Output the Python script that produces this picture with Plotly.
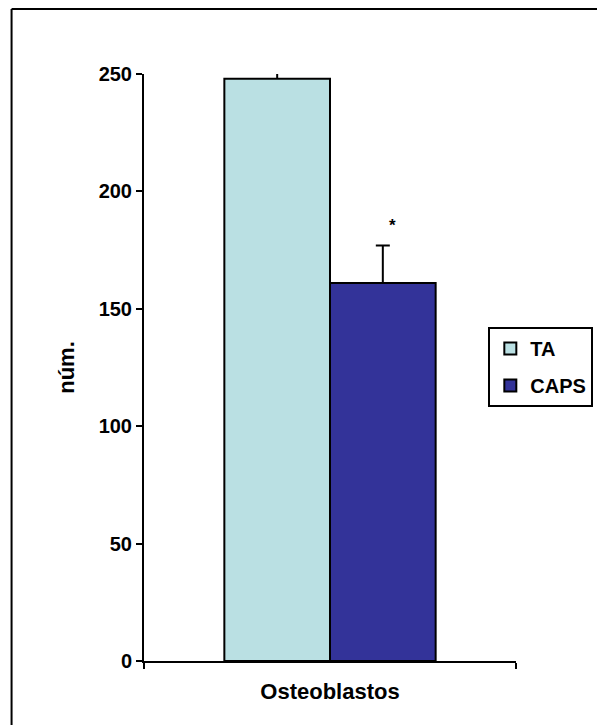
import plotly.graph_objects as go

categories = ["Osteoblastos"]
series_names = ["TA", "CAPS"]
ta_values = [248]
caps_values = [161]
ta_err = [4]
caps_err = [16]
sig_label = "*"
sig_y = [185.5]
y_ticks = [0, 50, 100, 150, 200, 250]

colors = {"TA": "#BAE0E3", "CAPS": "#333399"}
FONT = "Liberation Sans, Arial, sans-serif"

fig = go.Figure()
fig.add_trace(go.Bar(
    name=series_names[0], x=categories, y=ta_values,
    marker=dict(color=colors["TA"], line=dict(color="black", width=2)),
    error_y=dict(type="data", array=ta_err, arrayminus=[0] * len(ta_err), symmetric=False,
                 color="black", thickness=2, width=0),
    legendgroup="a",
))
fig.add_trace(go.Bar(
    name=series_names[1], x=categories, y=caps_values,
    marker=dict(color=colors["CAPS"], line=dict(color="black", width=2)),
    error_y=dict(type="data", array=caps_err, arrayminus=[0] * len(caps_err), symmetric=False,
                 color="black", thickness=2, width=7),
    legendgroup="b",
))

fig.add_annotation(x=categories[0], y=sig_y[0], text=sig_label, showarrow=False,
                   xshift=62, yanchor="middle", font=dict(family=FONT, size=17, color="black"))

# chart-area frame: only top and left edges fall inside the picture
fig.add_shape(type="line", xref="paper", yref="paper",
              x0=-0.356, x1=1.5, y0=1.1107, y1=1.1107,
              line=dict(color="black", width=2))
fig.add_shape(type="line", xref="paper", yref="paper",
              x0=-0.356, x1=-0.356, y0=-0.3, y1=1.1107,
              line=dict(color="black", width=2))

fig.update_layout(
    width=605, height=725,
    margin=dict(l=135.5, r=97.3, t=66, b=71.7, autoexpand=False),
    paper_bgcolor="white", plot_bgcolor="white",
    barmode="group", bargap=0.432, bargroupgap=0,
    font=dict(family=FONT, size=20, color="black", weight="bold"),
    showlegend=True,
    legend=dict(x=0.9256, y=0.569, xanchor="left", yanchor="top",
                bordercolor="black", borderwidth=2, bgcolor="white",
                font=dict(family=FONT, size=20, color="black", weight="bold"),
                tracegroupgap=8, traceorder="grouped"),
    xaxis=dict(type="category", showline=True, linecolor="black", linewidth=2,
               ticks="outside", tickson="boundaries", ticklen=6, tickwidth=2, tickcolor="black",
               ticklabelstandoff=10,
               tickfont=dict(family=FONT, size=22, weight="bold"),
               showgrid=False, zeroline=False, automargin=False),
    yaxis=dict(range=[0, 250], tickvals=y_ticks, showline=True, linecolor="black", linewidth=2,
               ticks="outside", ticklen=6, tickwidth=2, tickcolor="black",
               tickfont=dict(family=FONT, size=20, weight="bold"),
               showgrid=False, zeroline=False, automargin=False,
               title=dict(text="núm.", standoff=18, font=dict(family=FONT, size=22, weight="bold"))),
)

fig.write_html("out.html")
